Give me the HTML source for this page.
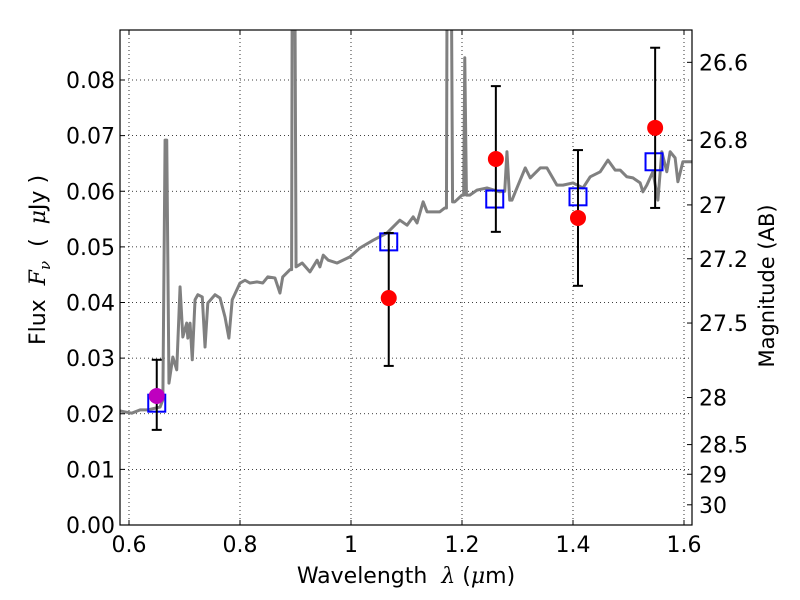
<!DOCTYPE html>
<html><head><meta charset="utf-8"><style>
html,body{margin:0;padding:0;background:#fff;}
svg{display:block;font-family:"DejaVu Sans","Liberation Sans",sans-serif;}
</style></head><body>
<svg id="chart" width="800" height="600" viewBox="0 0 800 600" xmlns="http://www.w3.org/2000/svg">
<rect x="0" y="0" width="800" height="600" fill="#fff"/>
<g id="grid"></g>
<defs><clipPath id="clip"><rect x="120" y="30" width="572" height="495"/></clipPath></defs>
<g id="plot" clip-path="url(#clip)"></g>
<g id="axes"></g>
</svg>
<script>
const specWave=[0.584,0.605,0.620,0.634,0.647,0.656,0.661,0.665,0.668,0.672,0.679,0.686,0.692,0.697,0.704,0.706,0.710,0.714,0.719,0.724,0.732,0.737,0.742,0.755,0.764,0.773,0.780,0.786,0.800,0.809,0.818,0.831,0.841,0.850,0.863,0.872,0.877,0.890,0.893,0.894,0.899,0.901,0.912,0.926,0.939,0.944,0.950,0.959,0.975,0.998,1.016,1.040,1.065,1.088,1.101,1.112,1.119,1.130,1.137,1.148,1.160,1.169,1.172,1.173,1.181,1.183,1.187,1.200,1.203,1.205,1.208,1.214,1.227,1.245,1.268,1.277,1.281,1.286,1.290,1.299,1.314,1.323,1.341,1.353,1.371,1.382,1.400,1.418,1.431,1.449,1.463,1.476,1.485,1.497,1.508,1.521,1.526,1.533,1.544,1.553,1.560,1.569,1.575,1.584,1.589,1.598,1.614];
const specFlux=[0.0205,0.0201,0.0207,0.0207,0.0210,0.0212,0.0225,0.0692,0.0692,0.0255,0.0302,0.0279,0.0428,0.0338,0.0363,0.0336,0.0363,0.0297,0.0405,0.0414,0.0410,0.0320,0.0399,0.0414,0.0408,0.0374,0.0336,0.0405,0.0435,0.0440,0.0435,0.0437,0.0435,0.0446,0.0444,0.0417,0.0446,0.0459,0.0459,0.095,0.095,0.0464,0.0471,0.0455,0.0476,0.0464,0.0485,0.0476,0.0471,0.0482,0.0498,0.0512,0.0525,0.0548,0.0539,0.0554,0.0543,0.0581,0.0563,0.0563,0.0563,0.0570,0.0570,0.095,0.095,0.0581,0.0581,0.0593,0.0593,0.0840,0.0593,0.0593,0.0602,0.0606,0.0599,0.0600,0.0671,0.0584,0.0584,0.0606,0.0642,0.0624,0.0642,0.0642,0.0611,0.0611,0.0615,0.0606,0.0626,0.0635,0.0656,0.0638,0.0638,0.0626,0.0624,0.0615,0.0599,0.0611,0.0635,0.0584,0.0671,0.0635,0.0671,0.0660,0.0617,0.0653,0.0653];
const obsWave=[0.650,1.068,1.261,1.409,1.548];
const obsFlux=[0.0232,0.0408,0.0658,0.0552,0.0714];
const obsLow=[0.0171,0.0286,0.0527,0.0430,0.0570];
const obsHigh=[0.0297,0.0525,0.0789,0.0674,0.0858];
const modelWave=[0.650,1.068,1.259,1.409,1.546];
const modelFlux=[0.0219,0.0509,0.0586,0.0590,0.0653];
const xTicks=[0.6,0.8,1.0,1.2,1.4,1.6];
const xTickLabels=["0.6","0.8","1","1.2","1.4","1.6"];
const yTicks=[0,0.01,0.02,0.03,0.04,0.05,0.06,0.07,0.08];
const yTickLabels=["0.00","0.01","0.02","0.03","0.04","0.05","0.06","0.07","0.08"];
const magTicks=[26.6,26.8,27,27.2,27.5,28,28.5,29,30];
const magTickLabels=["26.6","26.8","27","27.2","27.5","28","28.5","29","30"];

const L=120,R=692,T=30,B=525;
const X=v=>129+(v-0.6)*555;
const Y=v=>525-v*5562.5;
const NS="http://www.w3.org/2000/svg";
function mk(tag,attrs,parent){const e=document.createElementNS(NS,tag);for(const k in attrs)e.setAttribute(k,attrs[k]);parent.appendChild(e);return e;}
const grid=document.getElementById('grid'),plot=document.getElementById('plot'),axes=document.getElementById('axes');

xTicks.forEach((t,i)=>{
  const x=X(t);
  const g=mk('line',{x1:x,x2:x,y1:T,y2:B,stroke:'#000','stroke-width':0.8,'stroke-dasharray':'1,3'},grid);
  
  
  mk('line',{x1:x,x2:x,y1:B,y2:B-5,stroke:'#000','stroke-width':1},axes);
  mk('line',{x1:x,x2:x,y1:T,y2:T+5,stroke:'#000','stroke-width':1},axes);
  const tx=mk('text',{x:x,y:552,'font-size':22,'text-anchor':'middle'},axes);
  tx.textContent=xTickLabels[i];
  
  
});
yTicks.forEach((t,i)=>{
  const y=Y(t);
  const g=mk('line',{x1:L,x2:R,y1:y,y2:y,stroke:'#000','stroke-width':0.8,'stroke-dasharray':'1,3'},grid);
  
  
  mk('line',{x1:L,x2:L+5,y1:y,y2:y,stroke:'#000','stroke-width':1},axes);
  const tx=mk('text',{x:115,y:y+8,'font-size':22,'text-anchor':'end'},axes);
  tx.textContent=yTickLabels[i];
  
  
});
magTicks.forEach((m,i)=>{
  const y=Y(Math.pow(10,(23.9-m)/2.5));
  mk('line',{x1:R,x2:R-5,y1:y,y2:y,stroke:'#000','stroke-width':1},axes);
  const tx=mk('text',{x:699,y:y+8,'font-size':22,'text-anchor':'start'},axes);
  tx.textContent=magTickLabels[i];
  
  
});

const sp=mk('polyline',{points:specWave.map((w,i)=>X(w)+','+Y(specFlux[i])).join(' '),fill:'none',stroke:'#808080','stroke-width':3,'stroke-linejoin':'round'},plot);



modelWave.forEach((w,i)=>{
  const r=mk('rect',{x:X(w)-8.5,y:Y(modelFlux[i])-8.5,width:17,height:17,fill:'none',stroke:'#0000ff','stroke-width':2},plot);
  
  
});
obsWave.forEach((w,i)=>{
  const x=X(w);
  const eb=mk('g',{},plot);
  
  
  mk('line',{x1:x,x2:x,y1:Y(obsLow[i]),y2:Y(obsHigh[i]),stroke:'#000','stroke-width':2},eb);
  mk('line',{x1:x-5,x2:x+5,y1:Y(obsLow[i]),y2:Y(obsLow[i]),stroke:'#000','stroke-width':2},eb);
  mk('line',{x1:x-5,x2:x+5,y1:Y(obsHigh[i]),y2:Y(obsHigh[i]),stroke:'#000','stroke-width':2},eb);
  const c=mk('circle',{cx:x,cy:Y(obsFlux[i]),r:8,fill:i===0?'#bf00bf':'#ff0000'},plot);
  
  
});
const fr=mk('rect',{x:L,y:T,width:R-L,height:B-T,fill:'none',stroke:'#000','stroke-width':1.2},axes);


</script>
<svg style="position:absolute;left:0;top:0" width="800" height="600">
<text x="406" y="583" font-size="22" text-anchor="middle" font-family="DejaVu Sans, sans-serif" xml:space="preserve">Wavelength  <tspan font-family="DejaVu Serif, serif" font-style="italic">λ</tspan> (<tspan font-family="DejaVu Serif, serif" font-style="italic">μ</tspan>m)</text>
<text transform="translate(45,260) rotate(-90)" font-size="22" text-anchor="middle" font-family="DejaVu Sans, sans-serif" xml:space="preserve">Flux  <tspan font-family="DejaVu Serif, serif" font-style="italic">F</tspan><tspan font-family="DejaVu Serif, serif" font-style="italic" font-size="15" dy="5">ν</tspan><tspan dy="-5">  (  </tspan><tspan font-family="DejaVu Serif, serif" font-style="italic">μ</tspan>Jy )</text>
<text transform="translate(774,286) rotate(-90)" font-size="21" text-anchor="middle" font-family="DejaVu Sans, sans-serif">Magnitude (AB)</text>
</svg>
</body></html>
